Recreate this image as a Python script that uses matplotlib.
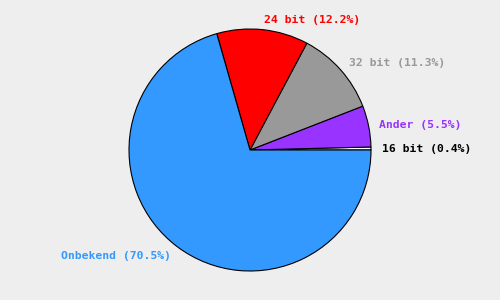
import matplotlib
matplotlib.use('Agg')
import matplotlib.pyplot as plt
import numpy as np

labels = ['16 bit', 'Ander', '32 bit', '24 bit', 'Onbekend']
values = [0.4, 5.5, 11.3, 12.2, 70.5]
colors = ['#FFFFFF', '#9933FF', '#999999', '#FF0000', '#3399FF']
label_colors = ['#000000', '#9933FF', '#999999', '#FF0000', '#3399FF']

fig = plt.figure(figsize=(5, 3), dpi=100)
fig.patch.set_facecolor('#EEEEEE')
ax = fig.add_axes([0, 0, 1, 1])

ax.pie(values, colors=colors, radius=121, startangle=0, counterclock=True,
       wedgeprops=dict(edgecolor='black', linewidth=0.8), frame=True)
ax.set_xlim(-250, 250)
ax.set_ylim(-150, 150)
ax.set_aspect('equal')
ax.axis('off')

total = sum(values)
start = 0.0
for lab, v, c in zip(labels, values, label_colors):
    mid = np.deg2rad((start + v / 2) / total * 360)
    start += v
    x = 132 * np.cos(mid)
    y = 132 * np.sin(mid) - 1
    ha = 'left' if np.cos(mid) >= 0 else 'right'
    ax.text(x, y, "%s (%.1f%%)" % (lab, v), color=c, ha=ha, va='center',
            fontsize=8.2, fontweight='bold', family='DejaVu Sans Mono')

fig.savefig('out.png', dpi=100, facecolor=fig.get_facecolor())
